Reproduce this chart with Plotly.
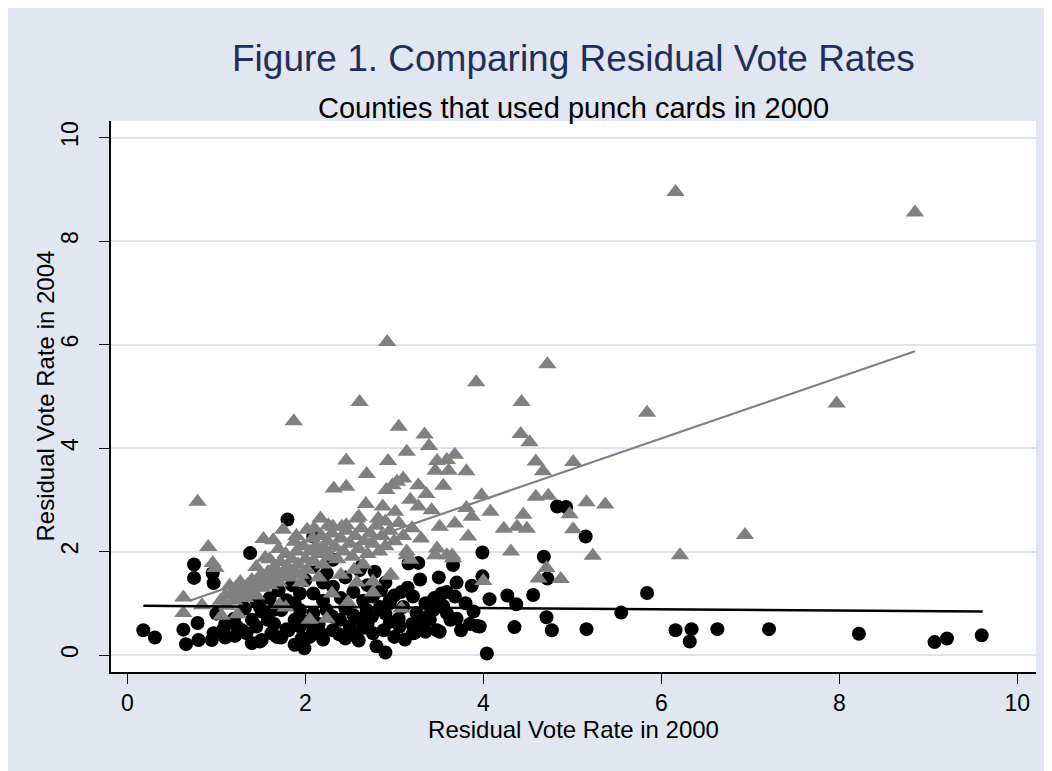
import plotly.graph_objects as go

# ---------------- data ----------------
# Triangles (gray): (residual vote rate 2000, residual vote rate 2004)
tri_points = [
    (6.16, 8.95), (8.85, 8.55), (2.92, 6.05), (3.92, 5.27), (4.72, 5.62), (2.61, 4.89),
    (1.87, 4.52), (4.43, 4.89), (5.84, 4.68), (7.97, 4.86), (3.05, 4.41), (4.42, 4.27),
    (4.52, 4.11), (3.34, 4.26), (3.39, 4.04), (3.14, 3.93), (2.46, 3.76), (2.93, 3.75),
    (3.48, 3.75), (3.59, 3.77), (3.68, 3.87), (4.59, 3.74), (4.67, 3.55), (5.01, 3.73),
    (3.46, 3.56), (3.61, 3.56), (3.81, 3.55), (2.69, 3.50), (2.32, 3.22), (2.46, 3.25),
    (2.91, 3.19), (3.03, 3.35), (3.10, 3.41), (2.98, 3.28), (3.27, 3.28), (3.55, 3.27),
    (3.36, 3.11), (3.98, 3.09), (4.59, 3.06), (4.73, 3.08), (5.16, 2.95), (5.37, 2.91),
    (3.18, 3.00), (2.68, 2.92), (2.87, 2.87), (3.27, 2.87), (3.42, 2.80), (3.81, 2.84),
    (4.08, 2.77), (3.01, 2.77), (4.97, 2.72), (4.45, 2.71), (2.17, 2.64), (2.60, 2.67),
    (3.87, 2.67), (2.82, 2.64), (2.90, 2.58), (3.51, 2.48), (3.68, 2.54), (2.26, 2.51),
    (2.41, 2.48), (4.23, 2.44), (4.38, 2.48), (4.49, 2.44), (5.01, 2.43), (3.83, 2.29),
    (3.48, 2.06), (3.65, 1.93), (4.31, 2.00), (5.23, 1.92), (6.21, 1.93), (6.94, 2.32),
    (4.71, 1.68), (4.62, 1.48), (4.87, 1.47), (4.00, 1.43), (0.79, 2.96), (0.91, 2.09),
    (0.96, 1.78), (0.99, 1.68), (0.63, 1.11), (0.63, 0.81), (0.84, 0.96), (1.15, 1.34),
    (1.27, 1.41), (1.06, 0.76), (1.24, 0.79), (1.55, 1.88), (1.53, 2.24), (1.64, 2.22),
    (1.75, 2.42), (1.88, 2.19), (2.02, 2.42), (2.31, 2.48), (2.46, 2.51), (2.58, 2.64),
    (3.14, 1.93), (3.46, 1.93), (3.59, 1.93), (3.66, 1.87), (3.18, 1.84), (2.96, 1.55),
    (2.76, 1.42), (2.58, 1.40), (2.76, 1.21), (3.08, 0.90), (2.48, 1.02), (2.30, 1.19),
    (2.24, 0.70), (2.05, 0.68), (1.71, 0.97), (1.78, 0.92), (3.14, 2.00), (2.95, 1.53),
    (1.05, 1.05), (1.10, 1.15), (1.12, 0.95), (1.18, 1.20), (1.20, 1.05), (1.22, 1.30),
    (1.25, 1.15), (1.30, 1.25), (1.32, 1.10), (1.35, 1.35), (1.38, 1.20), (1.40, 1.45),
    (1.42, 1.30), (1.45, 1.15), (1.48, 1.40), (1.50, 1.55), (1.52, 1.30), (1.55, 1.45),
    (1.58, 1.60), (1.60, 1.35), (1.62, 1.50), (1.65, 1.70), (1.68, 1.55), (1.70, 1.40),
    (1.72, 1.80), (1.75, 1.60), (1.78, 1.95), (1.80, 1.70), (1.82, 1.50), (1.85, 1.85),
    (1.88, 1.62), (1.90, 2.00), (1.92, 1.75), (1.95, 1.55), (1.98, 2.10), (2.00, 1.85),
    (2.02, 1.65), (2.05, 2.00), (2.08, 2.25), (2.10, 1.80), (2.12, 2.10), (2.15, 1.95),
    (2.18, 2.30), (2.20, 1.75), (2.22, 2.05), (2.25, 2.20), (2.28, 1.90), (2.30, 2.35),
    (2.33, 2.10), (2.36, 1.85), (2.40, 2.25), (2.43, 2.00), (2.46, 2.40), (2.50, 2.15),
    (2.53, 1.90), (2.56, 2.30), (2.60, 2.05), (2.63, 2.45), (2.66, 2.20), (2.70, 1.95),
    (2.73, 2.35), (2.76, 2.15), (2.80, 2.50), (2.83, 2.00), (2.86, 2.30), (2.90, 2.10),
    (2.95, 2.40), (3.00, 2.20), (3.05, 2.55), (3.10, 2.30), (3.20, 2.45), (3.30, 2.25),
    (1.90, 2.30), (2.10, 2.45), (1.70, 2.05), (1.60, 1.85), (1.45, 1.70), (2.55, 1.65),
    (2.40, 1.55), (2.65, 1.75), (1.95, 1.40), (2.15, 1.50),
]

# Circles (black): (residual vote rate 2000, residual vote rate 2004)
dot_points = [
    (4.83, 2.87), (4.93, 2.86), (5.15, 2.29), (4.68, 1.90), (4.72, 1.48), (4.27, 1.15),
    (4.37, 0.98), (4.56, 1.16), (5.84, 1.20), (5.55, 0.82), (4.71, 0.73), (4.35, 0.54),
    (4.77, 0.48), (5.16, 0.50), (6.16, 0.48), (6.34, 0.50), (6.32, 0.26), (6.63, 0.50),
    (7.21, 0.50), (8.22, 0.41), (9.07, 0.25), (9.21, 0.32), (9.60, 0.38), (3.99, 1.98),
    (3.99, 1.52), (4.07, 1.08), (3.96, 0.55), (4.04, 0.03), (1.80, 2.62), (1.38, 1.97),
    (0.75, 1.75), (0.75, 1.49), (0.96, 1.58), (0.97, 1.39), (0.18, 0.48), (0.31, 0.34),
    (0.63, 0.49), (0.79, 0.62), (0.66, 0.21), (0.80, 0.29), (3.29, 1.46), (3.87, 1.34),
    (3.08, 1.22), (3.53, 1.19), (3.59, 1.22), (3.68, 1.13), (3.89, 0.84), (3.93, 0.56),
    (3.75, 0.48), (3.51, 0.45), (3.23, 0.43), (3.35, 0.45), (2.80, 0.17), (2.90, 0.05),
    (1.99, 0.13), (3.66, 1.74), (3.16, 1.77), (3.27, 1.78), (2.63, 1.71), (2.78, 1.61),
    (2.09, 2.29), (2.24, 1.58), (2.31, 1.84), (2.09, 1.71), (2.61, 1.64),
    (0.95, 0.29), (1.10, 0.34), (1.21, 0.37), (1.29, 0.48), (1.40, 0.23), (1.51, 0.29),
    (1.62, 0.42), (1.73, 0.34), (1.81, 0.48), (1.96, 0.32), (0.97, 0.42), (1.08, 0.50),
    (1.23, 0.55), (1.34, 0.42), (1.49, 0.26), (1.68, 0.35), (1.79, 0.50), (1.94, 0.55),
    (2.09, 0.48), (2.17, 0.42), (2.31, 0.48), (2.45, 0.32), (2.54, 0.39), (2.65, 0.52),
    (2.76, 0.42), (2.88, 0.48), (2.95, 0.64), (3.06, 0.55), (3.21, 0.42), (3.29, 0.50),
    (3.40, 0.68), (3.48, 0.48), (3.63, 0.68), (2.20, 0.30), (2.38, 0.40), (2.60, 0.28),
    (3.00, 0.35), (3.12, 0.30), (2.05, 0.35), (1.88, 0.20), (2.50, 0.55), (2.70, 0.60),
    (1.32, 0.90), (1.51, 0.84), (1.40, 0.68), (1.58, 0.68), (1.73, 0.87), (1.88, 1.00),
    (1.88, 0.68), (1.49, 0.93), (1.64, 0.87), (1.79, 1.00), (1.94, 0.87), (2.09, 0.81),
    (2.24, 0.87), (2.39, 0.68), (2.54, 0.77), (2.69, 0.87), (2.84, 0.93), (2.95, 1.00),
    (3.10, 0.93), (3.25, 0.81), (3.37, 0.74), (3.44, 0.87), (3.59, 0.81), (2.00, 0.65),
    (2.15, 0.60), (2.30, 0.75), (2.45, 0.90), (2.60, 0.70), (2.75, 0.75), (2.90, 0.80),
    (3.05, 0.70), (3.20, 0.60), (3.33, 0.62), (1.20, 0.70), (1.10, 0.60), (1.45, 0.55),
    (1.65, 0.60), (1.00, 0.80),
    (1.94, 1.19), (1.79, 1.06), (2.09, 1.19), (2.31, 1.32), (2.54, 1.22), (2.76, 1.13),
    (2.95, 1.06), (3.21, 1.13), (2.20, 1.05), (2.40, 1.10), (2.65, 1.05), (2.85, 1.25),
    (3.00, 1.15), (3.15, 1.30), (3.35, 1.00), (3.45, 1.10), (2.00, 1.45), (2.20, 1.40),
    (2.45, 1.50), (2.70, 1.35), (2.90, 1.40), (1.60, 1.10), (1.70, 1.25), (1.45, 1.05),
    (1.30, 1.10), (1.85, 1.35), (3.50, 1.50), (3.70, 1.40), (3.80, 1.00), (3.55, 0.95),
    (3.70, 0.70), (3.85, 0.60),
]

tri_rate2000 = [p[0] for p in tri_points]
tri_rate2004 = [p[1] for p in tri_points]
dot_rate2000 = [p[0] for p in dot_points]
dot_rate2004 = [p[1] for p in dot_points]

# Fitted lines (end points)
gray_fit_x = [0.70, 8.85]
gray_fit_y = [1.05, 5.87]
black_fit_x = [0.18, 9.61]
black_fit_y = [0.95, 0.84]

x_ticks = [0, 2, 4, 6, 8, 10]
y_ticks = [0, 2, 4, 6, 8, 10]

title_text = "Figure 1. Comparing Residual Vote Rates"
subtitle_text = "Counties that used punch cards in 2000"
x_title = "Residual Vote Rate in 2000"
y_title = "Residual Vote Rate in 2004"

# ---------------- figure ----------------
FONT = "Liberation Sans, Arial, Helvetica, sans-serif"
BG = "#E1E6F0"
GRAY = "#808080"

fig = go.Figure()
fig.add_trace(go.Scatter(
    x=dot_rate2000, y=dot_rate2004, mode="markers",
    marker=dict(symbol="circle", size=14, color="black", line=dict(width=0)),
    showlegend=False, hoverinfo="skip"))
fig.add_trace(go.Scatter(
    x=tri_rate2000, y=tri_rate2004, mode="markers",
    marker=dict(symbol="triangle-up", size=16, color=GRAY, line=dict(width=0)),
    showlegend=False, hoverinfo="skip"))
fig.add_trace(go.Scatter(
    x=gray_fit_x, y=gray_fit_y, mode="lines",
    line=dict(color=GRAY, width=2.2), showlegend=False, hoverinfo="skip"))
fig.add_trace(go.Scatter(
    x=black_fit_x, y=black_fit_y, mode="lines",
    line=dict(color="black", width=2.5), showlegend=False, hoverinfo="skip"))

fig.update_layout(
    width=1052, height=771,
    margin=dict(l=103, r=24, t=113, b=107),
    paper_bgcolor=BG, plot_bgcolor="white",
    font=dict(family=FONT, color="black", size=24),
    showlegend=False,
)
fig.update_xaxes(
    range=[-0.183, 10.21], tickvals=x_ticks, ticktext=[str(v) for v in x_ticks],
    showgrid=False, zeroline=False,
    showline=True, linecolor="black", linewidth=1.5,
    ticks="outside", ticklen=10, tickwidth=1.3, tickcolor="black",
    tickfont=dict(size=23, color="black", family=FONT),
    title=dict(text=x_title, font=dict(size=24, color="black", family=FONT), standoff=6),
)
fig.update_yaxes(
    range=[-0.328, 10.32], tickvals=y_ticks, ticktext=[str(v) for v in y_ticks],
    showgrid=True, gridcolor="#DDE2EE", gridwidth=2, zeroline=False,
    showline=True, linecolor="black", linewidth=1.5,
    ticks="outside", ticklen=10, tickwidth=1.3, tickcolor="black",
    tickangle=-90, ticklabelstandoff=12,
    tickfont=dict(size=23, color="black", family=FONT),
)

fig.add_annotation(
    text=y_title, xref="paper", yref="paper", x=0, y=0.5, xshift=-66,
    textangle=-90, showarrow=False, xanchor="center", yanchor="middle",
    font=dict(size=24, color="black", family=FONT))
fig.add_annotation(
    text=title_text, xref="paper", yref="paper", x=0.5, y=1, yshift=63,
    showarrow=False, xanchor="center", yanchor="middle",
    font=dict(size=37, color="#1F2F5C", family=FONT))
fig.add_annotation(
    text=subtitle_text, xref="paper", yref="paper", x=0.5, y=1, yshift=13,
    showarrow=False, xanchor="center", yanchor="middle",
    font=dict(size=29, color="black", family=FONT))

fig.write_html("out.html")
